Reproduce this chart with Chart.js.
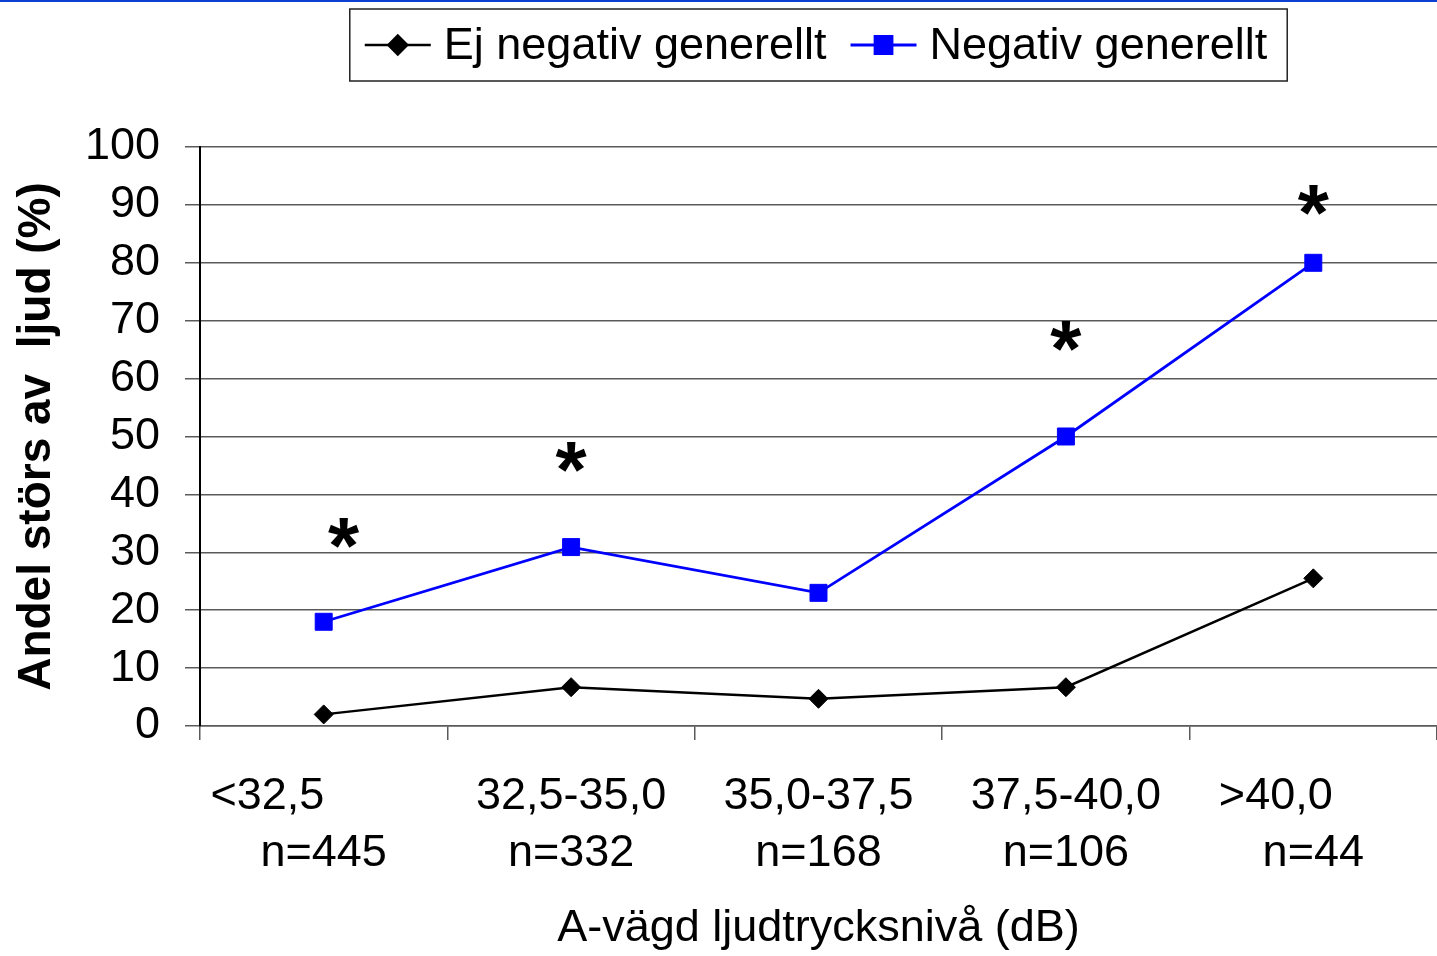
<!DOCTYPE html>
<html>
<head>
<meta charset="utf-8">
<script src="https://cdn.jsdelivr.net/npm/chart.js@4.4.1/dist/chart.umd.min.js"></script>
<style>
  html, body { margin: 0; padding: 0; background: #fff; }
  #wrap { position: relative; width: 1437px; height: 956px; }
  #topline { position: absolute; left: 0; top: 0; width: 1437px; height: 2px; background: #0a3fd0; }
</style>
</head>
<body>
<div id="wrap">
  <canvas id="chart"></canvas>
  <div id="topline"></div>
</div>
<script>
// ── Data ─────────────────────────────────────────────────────
const categories = [
  ['<32,5         ', 'n=445'],
  ['32,5-35,0', 'n=332'],
  ['35,0-37,5', 'n=168'],
  ['37,5-40,0', 'n=106'],
  ['>40,0      ', 'n=44']
];
const ejNegativ = [2, 6.7, 4.7, 6.7, 25.5];
const negativ = [18, 30.9, 23, 50, 80];

// significance markers (category position, value)
const starPos = [0.08, 1, 3, 4];
const starVal = [33, 46, 67, 90.5];

const yTicks = [0, 10, 20, 30, 40, 50, 60, 70, 80, 90, 100];

const FONT = "'Liberation Sans', Arial, sans-serif";
const GRID = '#5a5a5a';

// ── Plugins ──────────────────────────────────────────────────
const starPlugin = {
  id: 'stars',
  afterDatasetsDraw(chart) {
    const { ctx, scales: { x, y } } = chart;
    const size = 80;
    ctx.save();
    ctx.fillStyle = '#000';
    ctx.font = `bold ${size}px ${FONT}`;
    ctx.textAlign = 'center';
    ctx.textBaseline = 'alphabetic';
    starPos.forEach((p, i) => {
      ctx.fillText('*', x.getPixelForValue(p), y.getPixelForValue(starVal[i]) + size * 0.47);
    });
    ctx.restore();
  }
};

const boxLegend = {
  id: 'boxLegend',
  afterDraw(chart) {
    const { ctx, chartArea } = chart;
    const sets = chart.data.datasets;
    ctx.save();
    ctx.font = `45px ${FONT}`;
    const padL = 15, padR = 20, lineW = 66, gap = 13, between = 24;
    const widths = sets.map(d => ctx.measureText(d.label).width);
    let total = padL + padR;
    widths.forEach((w, i) => { total += lineW + gap + w + (i ? between : 0); });
    const cx = (chartArea.left + chartArea.right) / 2;
    const left = cx - total / 2, top = 9, h = 72, midY = top + h / 2;

    ctx.strokeStyle = '#222';
    ctx.lineWidth = 1.5;
    ctx.strokeRect(left, top, total, h);

    let xPos = left + padL;
    sets.forEach((d, i) => {
      if (i) xPos += between;
      ctx.strokeStyle = d.borderColor;
      ctx.lineWidth = d.borderWidth;
      ctx.beginPath();
      ctx.moveTo(xPos, midY);
      ctx.lineTo(xPos + lineW, midY);
      ctx.stroke();
      ctx.fillStyle = d.pointBackgroundColor;
      ctx.strokeStyle = d.pointBorderColor;
      Chart.helpers.drawPoint(ctx, {
        pointStyle: d.pointStyle,
        radius: d.pointRadius,
        borderWidth: 1
      }, xPos + lineW / 2, midY);
      xPos += lineW + gap;
      ctx.fillStyle = '#000';
      ctx.textBaseline = 'middle';
      ctx.textAlign = 'left';
      ctx.fillText(d.label, xPos, midY + 2);
      xPos += widths[i];
    });
    ctx.restore();
  }
};

// ── Chart ────────────────────────────────────────────────────
const ctx = document.getElementById('chart').getContext('2d');
new Chart(ctx, {
  type: 'line',
  data: {
    labels: categories,
    datasets: [
      {
        label: 'Ej negativ generellt',
        data: ejNegativ,
        borderColor: '#000',
        backgroundColor: '#000',
        pointBackgroundColor: '#000',
        pointBorderColor: '#000',
        pointStyle: 'rectRot',
        pointRadius: 9.5,
        pointBorderWidth: 1,
        borderWidth: 2.4,
        tension: 0
      },
      {
        label: 'Negativ generellt',
        data: negativ,
        borderColor: '#0000ff',
        backgroundColor: '#0000ff',
        pointBackgroundColor: '#0000ff',
        pointBorderColor: '#0000ff',
        pointStyle: 'rect',
        pointRadius: 12,
        pointBorderWidth: 1,
        borderWidth: 2.8,
        tension: 0
      }
    ]
  },
  options: {
    responsive: true,
    maintainAspectRatio: false,
    animation: false,
    layout: { autoPadding: false, padding: { top: 147, right: 0, bottom: 0, left: 10 } },
    plugins: {
      legend: { display: false },
      tooltip: { enabled: false }
    },
    scales: {
      x: {
        offset: true,
        afterFit: axis => { axis.height = 230; axis.paddingLeft = 0; axis.paddingRight = 0; },
        grid: { offset: true, drawOnChartArea: false, tickLength: 14, color: GRID, lineWidth: 1.5 },
        border: { color: GRID, width: 1.5 },
        ticks: {
          color: '#000', font: { family: FONT, size: 45, lineHeight: 1.27 },
          padding: 28, maxRotation: 0, autoSkip: false
        },
        title: {
          display: true, text: 'A-vägd ljudtrycksnivå (dB)', color: '#000',
          font: { family: FONT, size: 45 }, padding: { top: 0, bottom: 0 }
        }
      },
      y: {
        min: 0, max: 100,
        afterBuildTicks: axis => { axis.ticks = yTicks.map(v => ({ value: v })); },
        afterFit: axis => { axis.width = 190; },
        grid: { color: GRID, lineWidth: 1.5, tickLength: 15 },
        border: { color: '#000', width: 2 },
        ticks: { color: '#000', font: { family: FONT, size: 45 }, padding: 25 },
        title: {
          display: true, text: 'Andel störs av  ljud (%)', color: '#000',
          font: { family: FONT, size: 46, weight: 'bold' }, padding: { top: 0, bottom: 0 }
        }
      }
    }
  },
  plugins: [starPlugin, boxLegend]
});
</script>
</body>
</html>
